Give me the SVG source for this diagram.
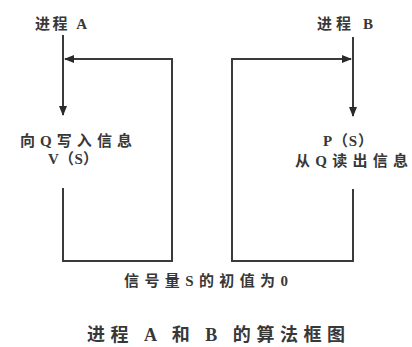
<svg xmlns="http://www.w3.org/2000/svg" width="412" height="347" viewBox="0 0 412 347">
<defs>
<style>
.t{font-family:"Liberation Serif","Noto Sans CJK SC",serif;font-size:15px;font-weight:bold;fill:#383838;}
.cap{font-size:18px;}
.ln{fill:none;stroke:#3a3a3a;stroke-width:2;}
</style>
<marker id="ah" viewBox="0 0 10 10" refX="9" refY="5" markerWidth="5" markerHeight="5" orient="auto" markerUnits="strokeWidth">
<path d="M0,1 L10,5 L0,9 Z" fill="#2a2a2a"/>
</marker>
</defs>
<rect width="412" height="347" fill="#ffffff"/>
<g id="connectors">
<path class="ln" d="M63,35 V115" marker-end="url(#ah)"/>
<path class="ln" d="M63,188 V261 H172 V59 H65" marker-end="url(#ah)"/>
<path class="ln" d="M353,37 V116" marker-end="url(#ah)"/>
<path class="ln" d="M353,189 V261 H232 V59 H351" marker-end="url(#ah)"/>
</g>
<g id="procA"><text class="t" x="35" y="29" textLength="52" lengthAdjust="spacing">进程 A</text></g>
<g id="procB"><text class="t" x="317" y="29" textLength="56" lengthAdjust="spacing">进程 B</text></g>
<g id="writeQ">
<text class="t" x="20" y="146" textLength="112" lengthAdjust="spacing">向Q写入信息</text>
<text class="t" x="48" y="164" textLength="50" lengthAdjust="spacing">V（S）</text>
</g>
<g id="readQ">
<text class="t" x="323" y="146" textLength="50" lengthAdjust="spacing">P（S）</text>
<text class="t" x="295" y="166" textLength="113" lengthAdjust="spacing">从Q读出信息</text>
</g>
<g id="semaphore"><text class="t" x="124" y="286" textLength="164" lengthAdjust="spacing">信号量S的初值为0</text></g>
<g id="caption"><text class="t cap" x="87" y="341" textLength="258" lengthAdjust="spacing">进程 A 和 B 的算法框图</text></g>
</svg>
